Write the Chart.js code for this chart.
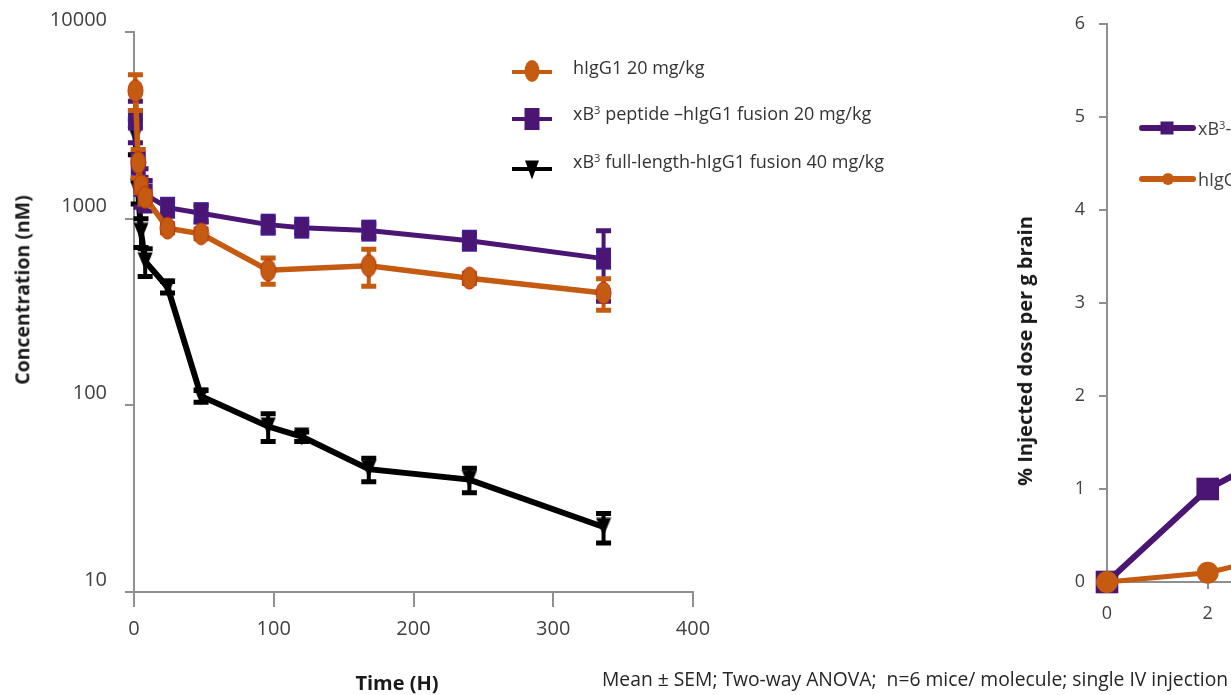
<!DOCTYPE html>
<html lang="en">
<head>
<meta charset="UTF-8">
<title>Plasma concentration and brain uptake</title>
<script src="https://cdn.jsdelivr.net/npm/chart.js@4"></script>
<style>
    html, body { margin: 0; padding: 0; background: #fff; overflow: hidden; }
    body { width: 1231px; height: 695px; position: relative; font-family: "Open Sans", sans-serif; color: #262626; }
    #leftChart { position: absolute; left: 0; top: 0; }
    #rightChart { position: absolute; left: 1000px; top: 0; }
    .txt { position: absolute; white-space: pre; line-height: 1.2; transform: translateY(-50%); }
    .title { position: absolute; white-space: nowrap; font-weight: bold; font-size: 20px; line-height: 1.2; color: #1a1a1a; transform: translate(-50%, -50%); }
    .vtitle { transform: translate(-50%, -50%) rotate(-90deg); }
    .legend-line { position: absolute; height: 4px; transform: translateY(-50%); }
    .mk { position: absolute; transform: translate(-50%, -50%); }
    sup { font-size: 0.62em; vertical-align: 0.55em; line-height: 0; }
</style>
</head>
<body>
<canvas id="leftChart" width="760" height="695"></canvas>
<canvas id="rightChart" width="642" height="695"></canvas>

<!-- axis titles -->
<div class="title vtitle" style="left:22px; top:290px; font-size:19.5px;">Concentration (nM)</div>
<div class="title" style="left:397px; top:683px;">Time (H)</div>
<div class="title vtitle" style="left:1025px; top:351px;">% Injected dose per g brain</div>
<div class="txt" style="left:602px; top:679px; font-size:19.3px;">Mean ± SEM; Two-way ANOVA;  n=6 mice/ molecule; single IV injection</div>

<!-- left legend -->
<div class="legend-line" style="left:512px; top:72px; width:40px; background:#C55A11;"></div>
<div class="mk" style="left:532px; top:71px; width:15px; height:22px; border-radius:50%; background:#C55A11;"></div>
<div class="txt" style="left:573px; top:68px; font-size:18px; color:#333;">hIgG1 20 mg/kg</div>

<div class="legend-line" style="left:512px; top:119px; width:40px; background:#4B1573;"></div>
<div class="mk" style="left:532px; top:119px; width:15px; height:22px; background:#4B1573;"></div>
<div class="txt" style="left:573px; top:114px; font-size:18px; color:#333;">xB<sup>3</sup> peptide –hIgG1 fusion 20 mg/kg</div>

<div class="legend-line" style="left:512px; top:169px; width:40px; background:#000;"></div>
<div class="mk" style="left:532px; top:170px; width:0; height:0; border-left:7.5px solid transparent; border-right:7.5px solid transparent; border-top:19px solid #000;"></div>
<div class="txt" style="left:573px; top:162px; font-size:18px; color:#333;">xB<sup>3</sup> full-length-hIgG1 fusion 40 mg/kg</div>

<!-- right legend (runs off the edge like the original) -->
<div class="legend-line" style="left:1139px; top:128px; width:57px; height:6px; border-radius:3px; background:#4B1573;"></div>
<div class="mk" style="left:1167px; top:128px; width:13px; height:13px; background:#4B1573;"></div>
<div class="txt" style="left:1198px; top:129px; font-size:18px; color:#404040;">xB<sup>3</sup>-hIgG1 fusion</div>

<div class="legend-line" style="left:1139px; top:179px; width:57px; height:6px; border-radius:3px; background:#C55A11;"></div>
<div class="mk" style="left:1168px; top:179px; width:12px; height:12px; border-radius:50%; background:#C55A11;"></div>
<div class="txt" style="left:1198px; top:180px; font-size:18px; color:#404040;">hIgG1</div>

<script>
    // ---- plasma PK (left panel) ----
    const timeH = [1, 3, 5, 8, 24, 48, 96, 120, 168, 240, 336];
    const hIgG1Mean = [4850, 2000, 1500, 1300, 890, 830, 530, null, 560, 480, 400];
    const hIgG1Sem = [1050, 350, 120, 100, 50, 50, 85, null, 125, 30, 77];
    const peptideMean = [3400, 1950, 1500, 1350, 1145, 1070, 929, 895, 863, 762, 611];
    const peptideSem = [850, 300, 350, 250, 90, 110, 80, 60, 70, 60, 250];
    const fullLenMean = [2800, 1400, 850, 590, 430, 112, 77, 68, 45.5, 40, 22.3];
    const fullLenSem = [600, 200, 150, 100, 30, 8, 13, 4, 6.5, 6, 4];
    const concTicks = [10, 100, 1000, 10000];
    const timeTicks = [0, 100, 200, 300, 400];

    // ---- brain uptake (right panel, cut off at the page edge) ----
    const brainTime = [0, 2, 4];
    const brainPeptide = [0, 1.0, 1.57];
    const brainHIgG1 = [0, 0.1, 0.36];
    const brainTicks = [0, 1, 2, 3, 4, 5, 6];

    const ORANGE = '#C55A11';
    const PURPLE = '#4B1573';
    const AXIS = '#8f8f8f';
    const TICK = '#404040';

    Chart.defaults.font.family = '"Open Sans", sans-serif';
    Chart.defaults.animation = false;

    function marker(w, h, draw) {
        const c = document.createElement('canvas');
        c.width = w; c.height = h;
        draw(c.getContext('2d'), w, h);
        return c;
    }
    const ellipseMark = marker(17, 24, g => {
        g.beginPath(); g.ellipse(8.5, 12, 7.5, 11, 0, 0, Math.PI * 2);
        g.fillStyle = ORANGE; g.fill();
        g.strokeStyle = '#b9330d'; g.lineWidth = 1; g.stroke();
    });
    const rectMark = marker(17, 24, g => {
        g.fillStyle = PURPLE; g.fillRect(1, 1, 15, 22);
        g.strokeStyle = '#3b22a8'; g.lineWidth = 1; g.strokeRect(1.5, 1.5, 14, 21);
    });
    const triMark = marker(16, 19, g => {
        g.beginPath(); g.moveTo(0.5, 0.5); g.lineTo(15.5, 0.5); g.lineTo(8, 18.5); g.closePath();
        g.fillStyle = '#000'; g.fill();
    });

    function points(xs, ys) {
        const out = [];
        xs.forEach((x, i) => { if (ys[i] !== null) out.push({ x: x, y: ys[i] }); });
        return out;
    }
    function sems(ys, es) {
        return es.filter((e, i) => ys[i] !== null);
    }

    // fixed axis box; drop the label padding chart.js adds above/below the y axis
    function fixWidth(w) {
        return s => { s.width = w; s.paddingTop = 0; s.paddingBottom = 0; };
    }

    // error bars drawn right under each dataset's own markers
    const errorBars = {
        id: 'errorBars',
        beforeDatasetDraw(chart, args) {
            const ds = chart.data.datasets[args.index];
            if (!ds.sem) return;
            const ctx = chart.ctx, xs = chart.scales.x, ys = chart.scales.y;
            ctx.save();
            ctx.strokeStyle = ds.borderColor;
            ds.data.forEach((p, j) => {
                const e = ds.sem[j];
                if (!e) return;
                const px = xs.getPixelForValue(p.x);
                const top = ys.getPixelForValue(p.y + e);
                const bot = ys.getPixelForValue(p.y - e);
                ctx.lineWidth = 4;
                ctx.beginPath(); ctx.moveTo(px, top); ctx.lineTo(px, bot); ctx.stroke();
                ctx.lineWidth = 5;
                ctx.beginPath();
                ctx.moveTo(px - 7.5, top); ctx.lineTo(px + 7.5, top);
                ctx.moveTo(px - 7.5, bot); ctx.lineTo(px + 7.5, bot);
                ctx.stroke();
            });
            ctx.restore();
        }
    };

    // outside tick marks, short ones for the log minors
    const axisTicks = {
        id: 'axisTicks',
        beforeDatasetsDraw(chart, args, opts) {
            const ctx = chart.ctx, xs = chart.scales.x, ys = chart.scales.y;
            const left = chart.chartArea.left, bottom = chart.chartArea.bottom;
            ctx.save();
            ctx.strokeStyle = AXIS;
            ctx.lineWidth = 2;
            ys.ticks.forEach(t => {
                const py = Math.round(ys.getPixelForValue(t.value));
                let len = opts.yLen;
                if (opts.logMinor) {
                    const lg = Math.log10(t.value);
                    if (Math.abs(lg - Math.round(lg)) > 1e-6) len = opts.yMinor;
                }
                ctx.beginPath(); ctx.moveTo(left, py); ctx.lineTo(left - len, py); ctx.stroke();
            });
            xs.ticks.forEach(t => {
                const px = Math.round(xs.getPixelForValue(t.value));
                ctx.beginPath(); ctx.moveTo(px, bottom); ctx.lineTo(px, bottom + opts.xLen); ctx.stroke();
            });
            ctx.restore();
        }
    };

    new Chart(document.getElementById('leftChart'), {
        type: 'line',
        data: {
            datasets: [
                { label: 'hIgG1 20 mg/kg', data: points(timeH, hIgG1Mean), sem: sems(hIgG1Mean, hIgG1Sem),
                  borderColor: ORANGE, borderWidth: 5.5, pointStyle: ellipseMark, pointRadius: 8, order: 0, clip: false },
                { label: 'xB3 peptide -hIgG1 fusion 20 mg/kg', data: points(timeH, peptideMean), sem: sems(peptideMean, peptideSem),
                  borderColor: PURPLE, borderWidth: 5, pointStyle: rectMark, pointRadius: 8, order: 1, clip: false },
                { label: 'xB3 full-length-hIgG1 fusion 40 mg/kg', data: points(timeH, fullLenMean), sem: sems(fullLenMean, fullLenSem),
                  borderColor: '#000', borderWidth: 6, pointStyle: triMark, pointRadius: 8, order: 2, clip: false }
            ]
        },
        options: {
            responsive: false,
            layout: { padding: { top: 32, right: 67, left: 0, bottom: 0 } },
            elements: { line: { tension: 0 } },
            plugins: {
                legend: { display: false },
                tooltip: { enabled: false },
                axisTicks: { yLen: 9, yMinor: 4, xLen: 15, logMinor: true }
            },
            scales: {
                x: {
                    type: 'linear', min: timeTicks[0], max: timeTicks[timeTicks.length - 1],
                    afterFit: s => { s.height = 103; },
                    afterBuildTicks: s => { s.ticks = timeTicks.map(v => ({ value: v })); },
                    grid: { display: false, drawTicks: false },
                    border: { display: true, color: AXIS, width: 2 },
                    ticks: { padding: 25, color: TICK, font: { size: 20 } }
                },
                y: {
                    type: 'logarithmic', min: concTicks[0], max: concTicks[concTicks.length - 1],
                    afterFit: fixWidth(134),
                    grid: { display: false, drawTicks: false },
                    border: { display: true, color: AXIS, width: 2 },
                    ticks: {
                        autoSkip: false, padding: 27, labelOffset: -12, color: TICK, font: { size: 20 },
                        callback: v => concTicks.includes(Math.round(v)) && Math.abs(v - Math.round(v)) < 1e-6 ? String(Math.round(v)) : null
                    }
                }
            }
        },
        plugins: [errorBars, axisTicks]
    });

    new Chart(document.getElementById('rightChart'), {
        type: 'line',
        data: {
            datasets: [
                { label: 'hIgG1', data: points(brainTime, brainHIgG1), borderColor: ORANGE, backgroundColor: ORANGE,
                  borderWidth: 5, pointStyle: 'circle', pointRadius: 11, pointBorderWidth: 0, order: 0, clip: false },
                { label: 'xB3-hIgG1 fusion', data: points(brainTime, brainPeptide), borderColor: PURPLE, backgroundColor: PURPLE,
                  borderWidth: 6, pointStyle: 'rect', pointRadius: 16, pointBorderWidth: 0, order: 1, clip: false }
            ]
        },
        options: {
            responsive: false,
            layout: { padding: { top: 24, right: 30, left: 0, bottom: 0 } },
            elements: { line: { tension: 0 } },
            plugins: {
                legend: { display: false },
                tooltip: { enabled: false },
                axisTicks: { yLen: 8, yMinor: 8, xLen: 7, logMinor: false }
            },
            scales: {
                x: {
                    type: 'linear', min: 0, max: 10,
                    afterFit: s => { s.height = 113; },
                    grid: { display: false, drawTicks: false },
                    border: { display: true, color: AXIS, width: 2 },
                    ticks: { stepSize: 2, padding: 21, color: TICK, font: { size: 18 } }
                },
                y: {
                    type: 'linear', min: brainTicks[0], max: brainTicks[brainTicks.length - 1],
                    afterFit: fixWidth(107),
                    afterBuildTicks: s => { s.ticks = brainTicks.map(v => ({ value: v })); },
                    grid: { display: false, drawTicks: false },
                    border: { display: true, color: AXIS, width: 2 },
                    ticks: { padding: 22, color: TICK, font: { size: 18 } }
                }
            }
        },
        plugins: [axisTicks]
    });
</script>
</body>
</html>
